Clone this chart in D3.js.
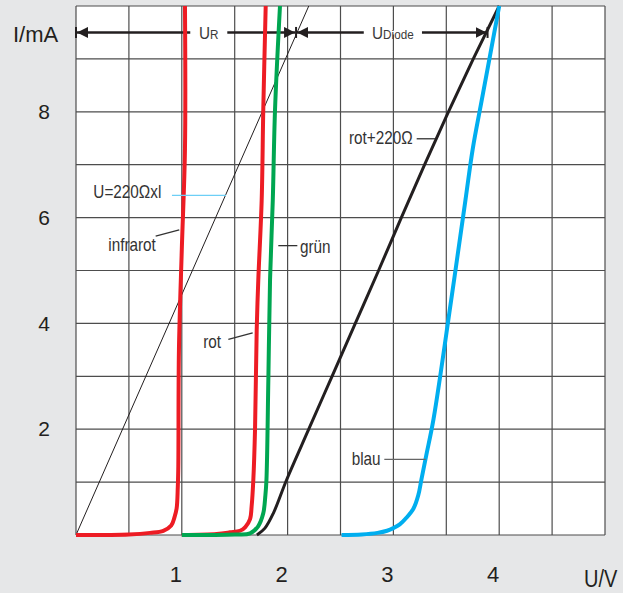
<!DOCTYPE html>
<html>
<head>
<meta charset="utf-8">
<script src="https://cdn.jsdelivr.net/npm/d3@7"></script>
<style>
  html, body { margin: 0; padding: 0; background: #e6e7e8; }
  svg { display: block; font-family: "Liberation Sans", Arial, sans-serif; }
</style>
</head>
<body>
<svg id="chart" width="623" height="593"></svg>
<script>
// LED characteristic curves: current I (mA) against voltage U (V)
const xTicks = [1, 2, 3, 4];
const yTicks = [2, 4, 6, 8];

// [U in V, I in mA]
const infrarot = [[0,0],[0.5,0.01],[0.7,0.04],[0.825,0.08],[0.9,0.18],[0.93,0.33],[0.951,0.5],[0.962,0.9],[0.967,1.3],[0.973,3.5],[1.0,5.4],[1.03,7.3],[1.03,10]];
const rot      = [[1.0,0],[1.33,0.02],[1.455,0.05],[1.55,0.08],[1.6,0.15],[1.645,0.3],[1.66,0.54],[1.676,1.04],[1.692,1.98],[1.708,3.88],[1.723,4.82],[1.755,6.33],[1.77,8.03],[1.793,10]];
const gruen    = [[1.0,0],[1.5,0.01],[1.645,0.03],[1.72,0.16],[1.77,0.41],[1.79,0.75],[1.8,1.04],[1.818,2.93],[1.834,4.82],[1.86,6.33],[1.881,8.03],[1.928,10]];
const rot220   = [[1.71,0],[1.786,0.13],[1.865,0.41],[1.99,1.04],[2.2,2.0],[2.42,3.0],[2.64,4.0],[2.86,5.0],[3.075,6.0],[3.295,7.0],[3.52,8.0],[3.755,9.0],[4.0,10]];
const blau     = [[2.51,0],[2.7,0.01],[2.85,0.04],[2.94,0.08],[3.0,0.13],[3.06,0.2],[3.125,0.33],[3.19,0.5],[3.235,0.75],[3.265,1.05],[3.31,1.5],[3.38,2.2],[3.546,4.44],[3.681,6.33],[3.75,7.3],[3.835,8.22],[3.953,9.49],[4.0,10]];
const resistorLine = [[0,0],[2.2,10]];   // U = 220 Ω · I

// voltage split shown at I = 9.5 mA
const splitI = 9.5;
const splitU = [0, 2.08, 3.89];

const svg = d3.select("#chart");
const x = d3.scaleLinear().domain([0, 5]).range([76, 605]);
const y = d3.scaleLinear().domain([0, 10]).range([535, 6]);

const ink = "#231f20";
const gridCol = "#4d4d4d";
const narrow = 0.85;   // condensed lettering inside the plot

function placeNarrow(sel, px, py, k = narrow) {
  sel.attr("x", 0).attr("y", 0)
     .attr("transform", (d, i) => `translate(${px(d, i)},${py(d, i)}) scale(${k},1)`);
}

// plot area
svg.append("rect")
  .attr("x", x(0)).attr("y", y(10))
  .attr("width", x(5) - x(0)).attr("height", y(0) - y(10))
  .attr("fill", "#fff");

// grid: 0.5 V columns, 1 mA rows
const grid = svg.append("g").attr("stroke", gridCol).attr("stroke-width", 1.2);
grid.selectAll("line.v").data(x.ticks(10)).join("line")
  .attr("class", "v")
  .attr("x1", d => x(d)).attr("x2", d => x(d))
  .attr("y1", y(0)).attr("y2", y(10));
grid.selectAll("line.h").data(y.ticks(10)).join("line")
  .attr("class", "h")
  .attr("x1", x(0)).attr("x2", x(5))
  .attr("y1", d => y(d)).attr("y2", d => y(d));

// axes (labels only)
const xAxis = svg.append("g")
  .attr("transform", `translate(0,${y(0)})`)
  .call(d3.axisBottom(x).tickValues(xTicks).tickSize(0).tickPadding(31).tickFormat(d3.format("d")));
xAxis.select(".domain").remove();
xAxis.selectAll("text").attr("dx", -6.5).attr("font-size", 22).attr("fill", ink);

const yAxis = svg.append("g")
  .attr("transform", `translate(${x(0)},0)`)
  .call(d3.axisLeft(y).tickValues(yTicks).tickSize(0).tickPadding(32).tickFormat(d3.format("d")));
yAxis.select(".domain").remove();
yAxis.selectAll("text").attr("text-anchor", "middle").attr("font-size", 21).attr("fill", ink);
xAxis.attr("font-family", null); yAxis.attr("font-family", null);

svg.append("text").attr("x", 13).attr("y", 42).attr("font-size", 22).attr("fill", ink).text("I/mA");
const uv = svg.append("text").datum(0).attr("font-size", 23).attr("fill", ink).text("U/V");
placeNarrow(uv, () => 584, () => 587, 0.87);

// clip for curves
svg.append("clipPath").attr("id", "plotclip").append("rect")
  .attr("x", x(0)).attr("y", y(10) - 1).attr("width", x(5) - x(0) + 2).attr("height", y(0) - y(10) + 4);

// arrowheads
const defs = svg.append("defs");
defs.append("marker").attr("id", "head")
  .attr("viewBox", "0 0 10 10").attr("refX", 10).attr("refY", 5)
  .attr("markerUnits", "userSpaceOnUse").attr("markerWidth", 11).attr("markerHeight", 11)
  .attr("orient", "auto-start-reverse")
  .append("path").attr("d", "M0,0L10,5L0,10Z").attr("fill", ink);

const ay = y(splitI);
const arrows = svg.append("g").attr("stroke", ink).attr("stroke-width", 2.6);
arrows.append("line").attr("x1", x(splitU[0]) + 1).attr("x2", x(splitU[1]) - 1).attr("y1", ay).attr("y2", ay)
  .attr("marker-start", "url(#head)").attr("marker-end", "url(#head)");
arrows.append("line").attr("x1", x(splitU[1]) + 1).attr("x2", x(splitU[2]) - 1).attr("y1", ay).attr("y2", ay)
  .attr("marker-start", "url(#head)").attr("marker-end", "url(#head)");
arrows.selectAll("line.bar").data(splitU).join("line").attr("class", "bar")
  .attr("x1", d => x(d)).attr("x2", d => x(d)).attr("y1", ay - 5.5).attr("y2", ay + 5.5).attr("stroke-width", 2);

// span labels U_R and U_Diode sit in gaps of the arrows
const spanLabels = [
  { main: "U", sub: "R", gap: [1.08, 1.43] },
  { main: "U", sub: "Diode", gap: [2.72, 3.27] }
];
svg.selectAll("rect.gap").data(spanLabels).join("rect").attr("class", "gap")
  .attr("x", d => x(d.gap[0])).attr("y", ay - 2)
  .attr("width", d => x(d.gap[1]) - x(d.gap[0])).attr("height", 4)
  .attr("fill", "#fff");
const spanText = svg.selectAll("text.span").data(spanLabels).join("text").attr("class", "span")
  .attr("text-anchor", "middle").attr("fill", "#3a3a3a");
placeNarrow(spanText, d => (x(d.gap[0]) + x(d.gap[1])) / 2, () => ay + 6.5, 0.9);
spanText.append("tspan").attr("font-size", 17).text(d => d.main);
spanText.append("tspan").attr("font-size", 13).text(d => d.sub);

// curves
const line = d3.line().x(d => x(d[0])).y(d => y(d[1])).curve(d3.curveCatmullRom.alpha(0.5));
const curves = svg.append("g").attr("clip-path", "url(#plotclip)").attr("fill", "none")
  .attr("stroke-linejoin", "round");

curves.append("path").datum(resistorLine).attr("d", d3.line().x(d => x(d[0])).y(d => y(d[1])))
  .attr("stroke", ink).attr("stroke-width", 1);

const series = [
  { data: infrarot, color: "#ed1c24", w: 4 },
  { data: rot,      color: "#ed1c24", w: 4 },
  { data: gruen,    color: "#00a651", w: 4 },
  { data: rot220,   color: ink,       w: 3 },
  { data: blau,     color: "#00aeef", w: 4 }
];
curves.selectAll("path.s").data(series).join("path").attr("class", "s")
  .attr("d", d => line(d.data)).attr("stroke", d => d.color).attr("stroke-width", d => d.w);

// curve labels with leader lines: [U, I] positions
const labels = [
  { text: "U=220Ωxl", at: [0.164, 6.37], lead: [[0.907, 6.42], [1.418, 6.42]], lc: "#6dcff6" },
  { text: "infrarot", at: [0.305, 5.36], lead: [[0.753, 5.65], [0.976, 5.77]], lc: "#333" },
  { text: "grün",     at: [2.117, 5.33], lead: [[1.912, 5.47], [2.092, 5.47]], lc: "#333" },
  { text: "rot+220Ω", at: [2.58, 7.40], lead: [[3.22, 7.49], [3.393, 7.49]], lc: "#333" },
  { text: "rot",      at: [1.203, 3.53], lead: [[1.44, 3.70], [1.67, 3.82]], lc: "#333" },
  { text: "blau",     at: [2.606, 1.32], lead: [[2.914, 1.43], [3.305, 1.43]], lc: "#666" }
];
const lab = svg.append("g");
lab.selectAll("line").data(labels).join("line")
  .attr("x1", d => x(d.lead[0][0])).attr("y1", d => y(d.lead[0][1]))
  .attr("x2", d => x(d.lead[1][0])).attr("y2", d => y(d.lead[1][1]))
  .attr("stroke", d => d.lc).attr("stroke-width", 1.3);
const labText = lab.selectAll("text").data(labels).join("text")
  .attr("font-size", 18).attr("fill", "#333").text(d => d.text);
placeNarrow(labText, d => x(d.at[0]), d => y(d.at[1]));
</script>
</body>
</html>
